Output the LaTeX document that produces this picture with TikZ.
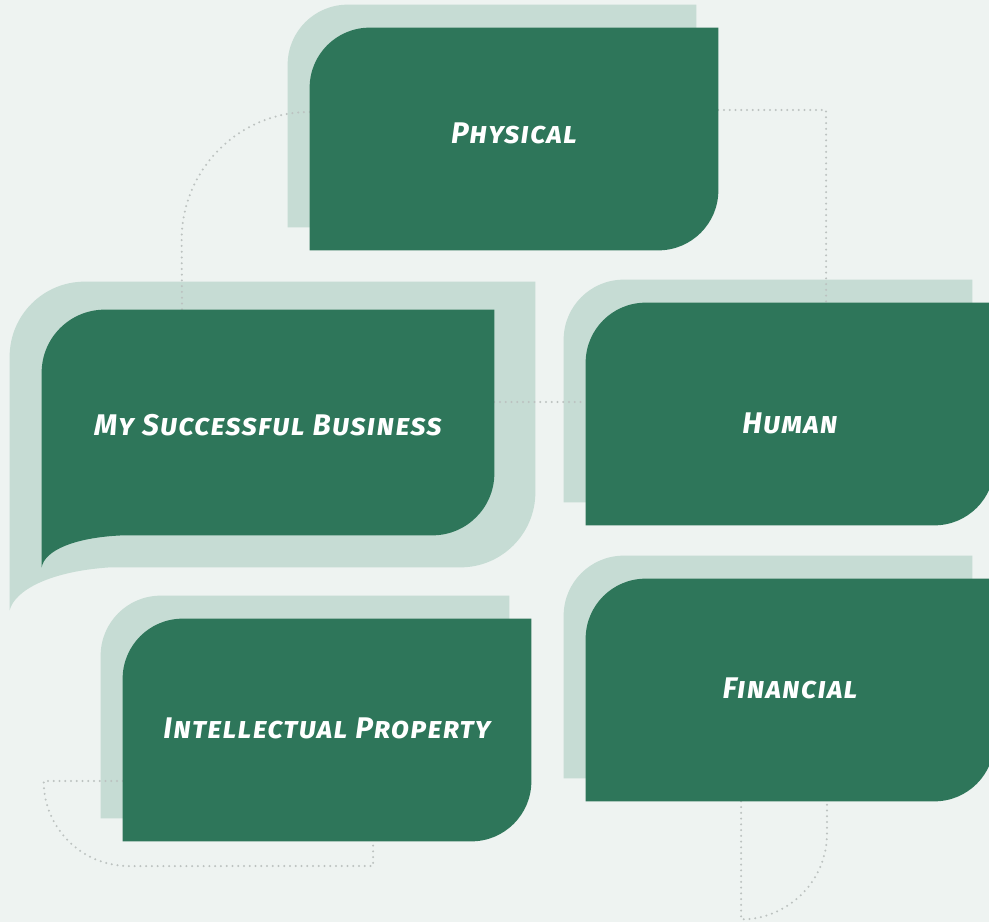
\documentclass[tikz,border=0pt]{standalone}
\usepackage{fontspec}
\newfontfamily\capitalfont{Fira Sans}[Letters=SmallCaps,LetterSpace=4]
\usetikzlibrary{backgrounds}
\definecolor{pageBg}{RGB}{238,243,241}
\definecolor{cardGreen}{RGB}{46,118,90}
\definecolor{cardShade}{RGB}{198,220,212}
\definecolor{linkGray}{RGB}{188,194,192}
\begin{document}
\begin{tikzpicture}
\tikzset{
    capCard/.style={rectangle,minimum width=8.16cm,minimum height=4.44cm,inner sep=0pt,align=center,
        text height=0.4cm,text depth=0.05cm,
        text=white,font=\capitalfont\bfseries\itshape\fontsize{17}{20}\selectfont},
    capMain/.style={capCard,minimum width=9.04cm,minimum height=4.5cm},
    capLink/.style={draw=linkGray,line width=0.045cm,line cap=round,dash pattern=on 0pt off 0.115cm},
}
\useasboundingbox (0,0) rectangle (19.78,-18.44);

\node[capCard,text height=0.38cm,text depth=0.21cm] (physical) at (10.28,-2.78) {Physical};
\node[capMain,text height=0.58cm] (business) at (5.36,-8.45) {My Successful Business};
\node[capCard,text height=0.82cm] (human) at (15.8,-8.28) {Human};
\node[capCard] (financial) at (15.8,-13.8) {Financial};
\node[capCard] (intellectual) at (6.54,-14.6) {Intellectual Property};

\begin{scope}[on background layer]
\fill[pageBg] (0,0) rectangle (19.78,-18.44);

% shades behind the cards
\fill[cardShade] ([shift={(-0.64,-1.5)}]business.south west) -- ([shift={(-0.64,-0.94)}]business.north west)
    arc[start angle=180,end angle=90,radius=1.5cm] -- ([shift={(0.82,0.56)}]business.north east)
    -- ([shift={(0.82,0.86)}]business.south east) arc[start angle=0,end angle=-90,radius=1.5cm]
    -- ([shift={(1.36,-0.64)}]business.south west) .. controls ([shift={(0.16,-0.72)}]business.south west)
    and ([shift={(-0.54,-1.1)}]business.south west) .. ([shift={(-0.64,-1.5)}]business.south west) -- cycle;
\fill[cardShade] ([shift={(-0.44,0.46)}]physical.south west) -- ([shift={(-0.44,-0.74)}]physical.north west)
    arc[start angle=180,end angle=90,radius=1.2cm] -- ([shift={(-0.44,0.46)}]physical.north east)
    -- ([shift={(-0.44,0.46)}]physical.south east) -- cycle;
\fill[cardShade] ([shift={(-0.44,0.46)}]human.south west) -- ([shift={(-0.44,-0.74)}]human.north west)
    arc[start angle=180,end angle=90,radius=1.2cm] -- ([shift={(-0.44,0.46)}]human.north east)
    -- ([shift={(-0.44,0.46)}]human.south east) -- cycle;
\fill[cardShade] ([shift={(-0.44,0.46)}]financial.south west) -- ([shift={(-0.44,-0.74)}]financial.north west)
    arc[start angle=180,end angle=90,radius=1.2cm] -- ([shift={(-0.44,0.46)}]financial.north east)
    -- ([shift={(-0.44,0.46)}]financial.south east) -- cycle;
\fill[cardShade] ([shift={(-0.44,0.46)}]intellectual.south west) -- ([shift={(-0.44,-0.74)}]intellectual.north west)
    arc[start angle=180,end angle=90,radius=1.2cm] -- ([shift={(-0.44,0.46)}]intellectual.north east)
    -- ([shift={(-0.44,0.46)}]intellectual.south east) -- cycle;

% dotted links
\draw[capLink] ([yshift=0.54cm]physical.west) arc[start angle=90,end angle=180,radius=2.56cm]
    -- ([xshift=-1.72cm]business.north);
\draw[capLink] ([yshift=0.58cm]physical.east) -| ([xshift=0.72cm]human.north);
\draw[capLink] ([yshift=0.41cm]business.east) -- ([yshift=0.41cm]business.east -| human.west);
\draw[capLink] ([yshift=-1.02cm]intellectual.west) -- ++(-1.58,0)
    arc[start angle=180,end angle=270,radius=1.7cm] -| ([xshift=0.92cm]intellectual.south);
\draw[capLink] ([xshift=-0.98cm]financial.south) -- ++(0,-2.36)
    arc[start angle=270,end angle=360,radius=1.72cm] -- ([xshift=0.74cm]financial.south);

% the cards
\fill[cardGreen] ([yshift=-0.64cm]business.south west) -- ([yshift=-1.26cm]business.north west)
    arc[start angle=180,end angle=90,radius=1.26cm] -- (business.north east)
    -- ([yshift=1.24cm]business.south east) arc[start angle=0,end angle=-90,radius=1.24cm]
    -- ([xshift=1.62cm]business.south west) .. controls ([shift={(0.66,-0.04)}]business.south west)
    and ([shift={(0.06,-0.3)}]business.south west) .. ([yshift=-0.64cm]business.south west) -- cycle;
\fill[cardGreen] (physical.south west) -- ([yshift=-1.2cm]physical.north west)
    arc[start angle=180,end angle=90,radius=1.2cm] -- (physical.north east)
    -- ([yshift=1.2cm]physical.south east) arc[start angle=0,end angle=-90,radius=1.2cm] -- cycle;
\fill[cardGreen] (human.south west) -- ([yshift=-1.2cm]human.north west)
    arc[start angle=180,end angle=90,radius=1.2cm] -- (human.north east)
    -- ([yshift=1.2cm]human.south east) arc[start angle=0,end angle=-90,radius=1.2cm] -- cycle;
\fill[cardGreen] (financial.south west) -- ([yshift=-1.2cm]financial.north west)
    arc[start angle=180,end angle=90,radius=1.2cm] -- (financial.north east)
    -- ([yshift=1.2cm]financial.south east) arc[start angle=0,end angle=-90,radius=1.2cm] -- cycle;
\fill[cardGreen] (intellectual.south west) -- ([yshift=-1.2cm]intellectual.north west)
    arc[start angle=180,end angle=90,radius=1.2cm] -- (intellectual.north east)
    -- ([yshift=1.2cm]intellectual.south east) arc[start angle=0,end angle=-90,radius=1.2cm] -- cycle;
\end{scope}
\end{tikzpicture}
\end{document}
